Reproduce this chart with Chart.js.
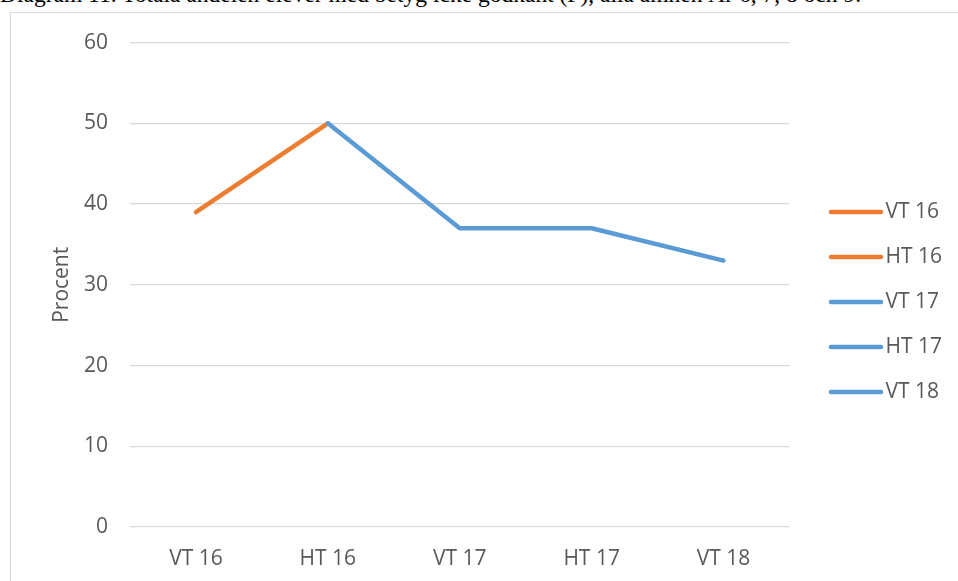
<!DOCTYPE html>
<html>
<head>
<meta charset="utf-8">
<script src="https://cdn.jsdelivr.net/npm/chart.js@4/dist/chart.umd.min.js"></script>
<style>
  html, body { margin: 0; padding: 0; background: #fff; overflow: hidden; }
  #caption {
    position: absolute; left: 0; top: -17px; white-space: nowrap;
    font-family: "Liberation Serif", "DejaVu Serif", serif; font-size: 23.5px; line-height: 23.5px; color: #000;
  }
  #box {
    position: absolute; left: 10px; top: 12px; width: 960px; height: 580px;
    border: 1px solid #d9d9d9; box-sizing: border-box;
  }
  #wrap { position: absolute; left: 0; top: -5px; width: 947px; height: 573px; }
</style>
</head>
<body>
<div id="caption">Diagram 11. Totala andelen elever med betyg icke godkänt (F), alla ämnen År 6, 7, 8 och 9.</div>
<div id="box"><div id="wrap"><canvas id="chart"></canvas></div></div>
<script>
const labels = ['VT 16', 'HT 16', 'VT 17', 'HT 17', 'VT 18']
const procent = [39, 50, 37, 37, 33]
const pointColors = ['#ED7D31', '#ED7D31', '#5B9BD5', '#5B9BD5', '#5B9BD5']
const yTicks = [0, 10, 20, 30, 40, 50, 60]

const textColor = '#595959'
const font = { family: '"Open Sans", sans-serif', size: 21 }

// small line pictures for the legend, so the line can be longer than the box
function legendLine(color) {
  const c = document.createElement('canvas')
  c.width = 56
  c.height = 8
  const g = c.getContext('2d')
  g.strokeStyle = color
  g.lineWidth = 4.5
  g.lineCap = 'round'
  g.beginPath()
  g.moveTo(3, 4)
  g.lineTo(53, 4)
  g.stroke()
  return c
}

const data = {
  labels: labels,
  datasets: [
    {
      label: 'Procent',
      data: procent,
      borderWidth: 4.5,
      borderCapStyle: 'round',
      borderJoinStyle: 'round',
      pointRadius: 0,
      borderColor: pointColors[0],
      segment: { borderColor: ctx => pointColors[ctx.p1DataIndex] },
      tension: 0,
    },
  ]
}

const chart_config = {
  type: 'line',
  data: data,
  options: {
    responsive: true,
    maintainAspectRatio: false,
    animation: false,
    layout: { padding: { top: 15, left: 30, right: 6, bottom: 0 } },
    plugins: {
      tooltip: { enabled: false },
      legend: {
        position: 'right',
        labels: {
          color: textColor,
          font: font,
          usePointStyle: true,
          pointStyleWidth: 38,
          padding: 24,
          generateLabels: () => labels.map((l, i) => ({
            text: l,
            fillStyle: pointColors[i],
            strokeStyle: pointColors[i],
            lineWidth: 0,
            pointStyle: legendLine(pointColors[i]),
            fontColor: textColor,
            hidden: false,
            index: i,
          })),
        },
      },
    },
    scales: {
      x: {
        offset: true,
        grid: { display: false, drawTicks: false },
        border: { display: false },
        ticks: { color: textColor, font: font, padding: 19 },
        afterFit: s => { s.height = 54 },
      },
      y: {
        min: 0,
        max: 60,
        afterBuildTicks: s => { s.ticks = yTicks.map(v => ({ value: v })) },
        grid: { color: '#D9D9D9', lineWidth: 1.3, drawTicks: false },
        border: { display: false },
        ticks: { color: textColor, font: font, padding: 22 },
        title: { display: true, text: 'Procent', color: textColor, font: font, padding: { top: 8, bottom: 0 } },
        afterFit: s => { s.width = 89 },
      },
      y2: {
        position: 'right',
        display: true,
        grid: { display: false, drawTicks: false },
        border: { display: false },
        ticks: { display: false },
        afterFit: s => { s.width = 23.5 },
      },
    },
  },
}

const chart = new Chart(document.getElementById('chart'), chart_config)
</script>
</body>
</html>
